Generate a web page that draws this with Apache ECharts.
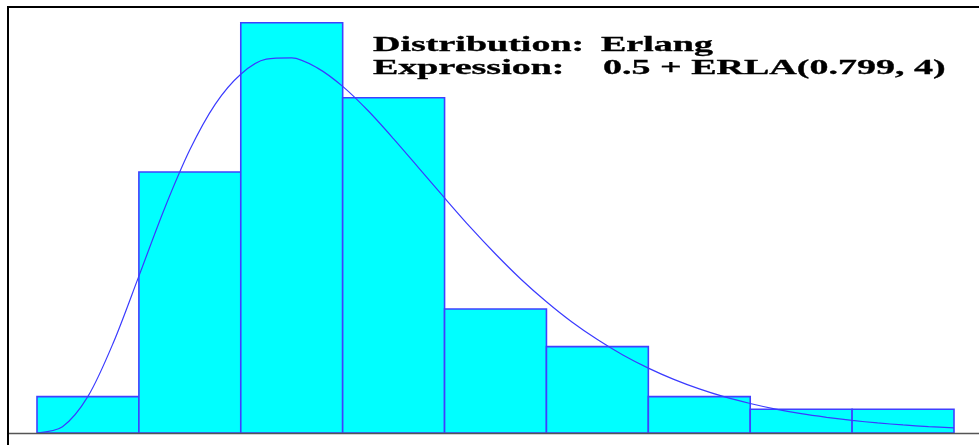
<!DOCTYPE html>
<html>
<head>
<meta charset="utf-8">
<script src="https://cdn.jsdelivr.net/npm/echarts@6/dist/echarts.min.js"></script>
<style>
html,body{margin:0;padding:0;background:#fff;}
#chart{width:979px;height:445px;}
</style>
</head>
<body>
<div id="chart"></div>
<script>
// Histogram bins (lower and upper edges) and relative frequencies
const binLower = [0.5, 1.5, 2.5, 3.5, 4.5, 5.5, 6.5, 7.5, 8.5];
const binUpper = [1.5, 2.5, 3.5, 4.5, 5.5, 6.5, 7.5, 8.5, 9.5];
const relFreq  = [0.0271, 0.1946, 0.3060, 0.2500, 0.0925, 0.0644, 0.0271, 0.0177, 0.0177];

// Fitted density curve (x step 0.25)
const curveX = [0.5, 0.75, 1.0, 1.25, 1.5, 1.75, 2.0, 2.25, 2.5, 2.75, 3.0, 3.25, 3.5,
                3.75, 4.0, 4.25, 4.5, 4.75, 5.0, 5.25, 5.5, 5.75, 6.0, 6.25, 6.5,
                6.75, 7.0, 7.25, 7.5, 7.75, 8.0, 8.25, 8.5, 8.75, 9.0, 9.25, 9.5];
const curveY = [0, 0.0047, 0.0273, 0.0675, 0.1170, 0.1671, 0.2112, 0.2453, 0.2676, 0.2788, 0.2797, 0.2723, 0.2585,
                0.2403, 0.2194, 0.1974, 0.1753, 0.1537, 0.1335, 0.1147, 0.0979, 0.0828, 0.0697, 0.0582, 0.0484,
                0.0400, 0.0329, 0.0269, 0.0220, 0.0178, 0.0144, 0.0117, 0.0094, 0.0075, 0.0060, 0.0048, 0.0038];

const textLabels = ['Distribution:', 'Expression:'];
const textValues = ['Erlang', '0.5 + ERLA(0.799, 4)'];

const xMin = 0.5, xMax = 9.5, yMax = 0.3177;

const chart = echarts.init(document.getElementById('chart'), null, {renderer: 'canvas'});

const barData = binLower.map((lo, i) => [lo, binUpper[i], relFreq[i]]);
const lineData = curveX.map((x, i) => [x, curveY[i]]);

const font = 'bold 21px "Liberation Serif", "Times New Roman", serif';
const textEls = [];
textLabels.forEach((t, i) => {
  textEls.push({
    type: 'text', x: 373, y: 45.5 + i * 23, scaleX: 1.81, z: 100,
    style: {text: t, font: font, fill: '#000', stroke: '#000', lineWidth: 0.3, textVerticalAlign: 'middle', verticalAlign: 'middle'}
  });
  textEls.push({
    type: 'text', x: i === 0 ? 601 : 603, y: 45.5 + i * 23, scaleX: 1.81, z: 100,
    style: {text: textValues[i], font: font, fill: '#000', stroke: '#000', lineWidth: 0.3, textVerticalAlign: 'middle', verticalAlign: 'middle'}
  });
});

chart.setOption({
  backgroundColor: '#ffffff',
  animation: false,
  grid: {left: 37, right: 25, top: 7, bottom: 12, containLabel: false},
  xAxis: {
    type: 'value', min: xMin, max: xMax,
    axisLine: {show: false}, axisTick: {show: false}, axisLabel: {show: false}, splitLine: {show: false}
  },
  yAxis: {
    type: 'value', min: 0, max: yMax,
    axisLine: {show: false}, axisTick: {show: false}, axisLabel: {show: false}, splitLine: {show: false}
  },
  graphic: [
    {type: 'line', z: 50, shape: {x1: 8, y1: 433.5, x2: 979, y2: 433.5}, style: {stroke: '#555', lineWidth: 1.3}},
    {type: 'line', z: 60, shape: {x1: 8, y1: 7, x2: 8, y2: 445}, style: {stroke: '#000', lineWidth: 2}},
    {type: 'line', z: 60, shape: {x1: 7, y1: 7, x2: 979, y2: 7}, style: {stroke: '#000', lineWidth: 2}}
  ].concat(textEls),
  series: [
    {
      type: 'custom',
      data: barData,
      z: 2,
      renderItem: function (params, api) {
        const p0 = api.coord([api.value(0), 0]);
        const p1 = api.coord([api.value(1), api.value(2)]);
        return {
          type: 'rect',
          shape: {x: p0[0], y: p1[1], width: p1[0] - p0[0], height: p0[1] - p1[1]},
          style: {fill: '#00ffff', stroke: '#4040ff', lineWidth: 1.6}
        };
      }
    },
    {
      type: 'line',
      data: lineData,
      z: 3,
      smooth: 0.3,
      symbol: 'none',
      lineStyle: {color: '#3b3bff', width: 1.2}
    }
  ]
});
</script>
</body>
</html>
